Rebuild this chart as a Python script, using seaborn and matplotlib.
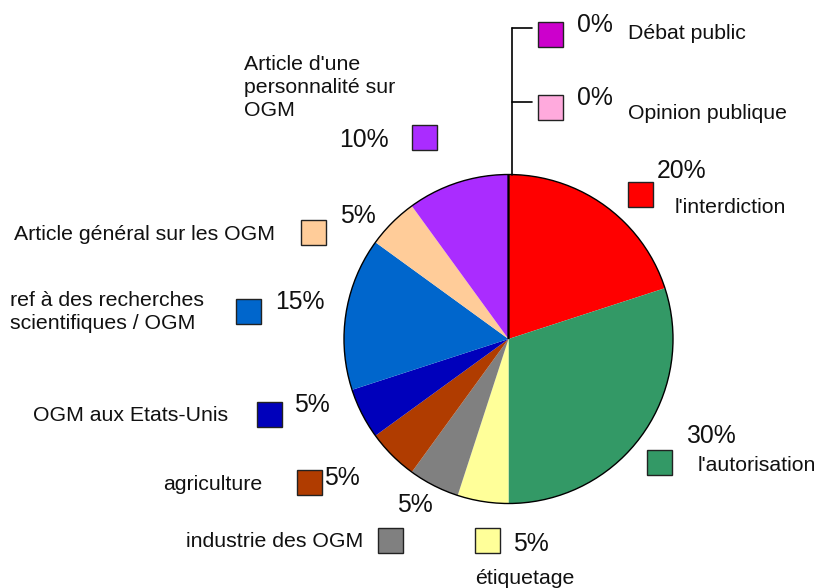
import matplotlib
matplotlib.use("Agg")
import matplotlib.pyplot as plt
from matplotlib.patches import Circle, Rectangle
import seaborn as sns

# --- Data ---
categories = ["l'interdiction", "l'autorisation", "étiquetage", "industrie des OGM",
              "agriculture", "OGM aux Etats-Unis", "ref à des recherches\nscientifiques / OGM",
              "Article général sur les OGM", "Article d'une\npersonnalité sur\nOGM",
              "Débat public", "Opinion publique"]
shares = [20, 30, 5, 5, 5, 5, 15, 5, 10, 0, 0]
pct_labels = ["20%", "30%", "5%", "5%", "5%", "5%", "15%", "5%", "10%", "0%", "0%"]
colors = ["#FF0000", "#339966", "#FFFF99", "#808080", "#B03C00", "#0000BB",
          "#0066CC", "#FFCC99", "#AA2CFF", "#CC00CC", "#FFAADD"]

# --- Layout (pixel positions, y measured from top) ---
W, H = 816, 588
CX, CY, R = 508.5, 339, 164.5
SQ = 25
# legend square top-left corners
squares = [(628, 182), (647, 450), (475, 528), (378, 528), (297, 470), (257, 402),
           (236, 299), (301, 220), (412, 125), (538, 22), (538, 95)]
# percent text (left x, baseline y)
pct_pos = [(657, 178), (686, 443), (513, 551), (397, 512), (324, 485), (294, 412),
           (275, 309), (340, 223), (339, 147), (577, 32), (577, 105)]
# category text (x, baseline y of first line, alignment)
cat_pos = [(675, 213, "left"), (698, 471, "left"), (475, 584, "left"), (363, 547, "right"),
           (262, 490, "right"), (228, 421, "right"), (10, 306, "left"), (275, 240, "right"),
           (244, 70, "left"), (628, 39, "left"), (628, 119, "left")]

sns.set_theme(style="white")
plt.rcParams["font.family"] = ["Liberation Sans", "DejaVu Sans"]

fig = plt.figure(figsize=(W / 100, H / 100), dpi=100)
ax = fig.add_axes([0, 0, 1, 1])

def py(y):
    return H - y

wedges, _ = ax.pie(shares, colors=colors, startangle=90, counterclock=False,
                   center=(CX, py(CY)), radius=R, frame=True,
                   wedgeprops=dict(linewidth=0))
for w, v in zip(wedges, shares):
    if v == 0:
        w.set_edgecolor("black")
        w.set_linewidth(1.3)
ax.add_patch(Circle((CX, py(CY)), R, fill=False, edgecolor="black", linewidth=1.0))
ax.set_xlim(0, W)
ax.set_ylim(0, H)
ax.set_aspect("equal")
ax.axis("off")

# leader line for the 0% slices
ax.plot([512, 512], [py(CY - R), py(28)], color="black", lw=1.2)
ax.plot([512, 532], [py(28), py(28)], color="black", lw=1.2)
ax.plot([512, 532], [py(102), py(102)], color="black", lw=1.2)

line_h = 23
for i, cat in enumerate(categories):
    sx, sy = squares[i]
    ax.add_patch(Rectangle((sx, py(sy + SQ)), SQ, SQ, facecolor=colors[i],
                           edgecolor="#222222", linewidth=1.0))
    px_, pb = pct_pos[i]
    ax.text(px_, py(pb), pct_labels[i], fontsize=17.8, ha="left", va="baseline",
            color="#111111")
    cx_, cb, al = cat_pos[i]
    for j, line in enumerate(cat.split("\n")):
        ax.text(cx_, py(cb + j * line_h), line, fontsize=15.3, ha=al, va="baseline",
                color="#111111")

fig.savefig("out.png", dpi=100)
